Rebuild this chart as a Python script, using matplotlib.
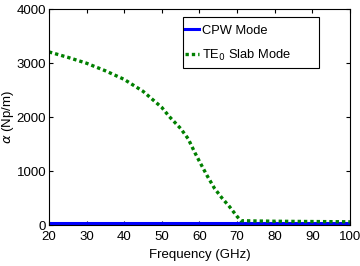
import matplotlib
matplotlib.use('Agg')
import matplotlib.pyplot as plt
from matplotlib.patches import Rectangle

plt.rcParams['font.family'] = ['Liberation Sans', 'DejaVu Sans']

# CPW mode (nearly zero loss)
freq_cpw = [20, 30, 40, 50, 60, 70, 80, 90, 100]
alpha_cpw = [30, 30, 30, 30, 30, 30, 30, 30, 30]

# TE0 slab mode
freq_te = [20, 25, 30, 35, 40, 45, 50, 52, 55, 57, 58.8, 60, 62, 64, 66, 68, 70, 71,
           75, 80, 90, 100]
alpha_te = [3210, 3110, 3000, 2860, 2700, 2480, 2180, 2010, 1790, 1600, 1340, 1180,
            920, 680, 500, 340, 160, 80, 75, 70, 65, 60]

fig = plt.figure(figsize=(3.6, 2.66), dpi=100)
ax = fig.add_axes([0.136, 0.154, 0.836, 0.811])

ax.plot(freq_cpw, alpha_cpw, color='#0000ff', linewidth=2.2, label='CPW Mode')
ax.plot(freq_te, alpha_te, color='#008000', linestyle=(0, (1, 0.9)), linewidth=2.4,
        dash_capstyle='butt', label='TE$_0$ Slab Mode')

ax.set_xlim(20, 100)
ax.set_ylim(0, 4000)
ax.set_xticks([20, 30, 40, 50, 60, 70, 80, 90, 100])
ax.set_yticks([0, 1000, 2000, 3000, 4000])
ax.tick_params(direction='in', top=True, right=True, labelsize=9.5, length=3)
ax.tick_params(axis='x', pad=4)
ax.tick_params(axis='y', pad=2)
ax.set_xlabel('Frequency (GHz)', fontsize=9.5)
ax.set_ylabel(r'$\alpha$ (Np/m)', fontsize=9.5)
ax.xaxis.set_label_coords(0.5, -0.11)
ax.yaxis.set_label_coords(-0.11, 0.5)

# MATLAB-style legend: entries on the left, wide box with empty space on the right
leg = ax.legend(loc='upper left', bbox_to_anchor=(185 / 360, 1 - 24.5 / 266),
                bbox_transform=fig.transFigure, fontsize=9.3, frameon=False,
                borderpad=0, borderaxespad=0, handlelength=1.05,
                handletextpad=0.25, labelspacing=0.85)
box = Rectangle((182.7 / 360, 1 - 68 / 266), (319 - 182.7) / 360, (68 - 17.3) / 266,
                transform=fig.transFigure, facecolor='white', edgecolor='black',
                linewidth=0.8, zorder=4)
ax.add_patch(box)
leg.set_zorder(5)

fig.savefig('out.png', dpi=100)
